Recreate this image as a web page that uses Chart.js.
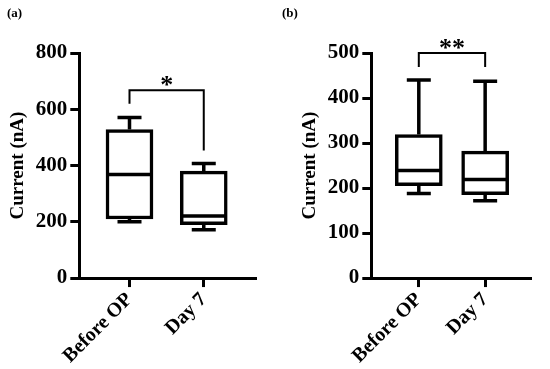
<!DOCTYPE html>
<html>
<head>
<meta charset="utf-8">
<script src="https://cdn.jsdelivr.net/npm/chart.js@4/dist/chart.umd.min.js"></script>
<style>
  html, body { margin: 0; padding: 0; background: #fff; }
  .wrap { display: flex; width: 550px; height: 369px; }
  .panel { position: relative; width: 275px; height: 369px; }
</style>
</head>
<body>
<div class="wrap">
  <div class="panel"><canvas id="chartA"></canvas></div>
  <div class="panel"><canvas id="chartB"></canvas></div>
</div>
<script>
const categories = ["Before OP", "Day 7"];

// panel (a)
const aMin = [200, 172];
const aQ1 = [210, 190];
const aMedian = [368, 221];
const aQ3 = [528, 380];
const aMax = [571, 407];

// panel (b)
const bMin = [188, 172];
const bQ1 = [205, 185];
const bMedian = [239, 219];
const bQ3 = [319, 282];
const bMax = [440, 437];

// significance brackets: [level, left leg end, right leg end]
const aBracket = [668, 620, 453];
const bBracket = [500, 469, 469];

const FONT = "'Liberation Serif', 'Times New Roman', serif";

const boxPlugin = {
    id: "boxplot",
    afterDatasetsDraw(chart, args, opts) {
        const { ctx } = chart;
        const x = chart.scales.x, y = chart.scales.y;
        const bars = chart.getDatasetMeta(0).data;
        ctx.save();
        ctx.strokeStyle = "#000";
        ctx.lineWidth = 3.5;
        ctx.lineCap = "butt";
        bars.forEach((bar, i) => {
            const cx = bar.x;
            const half = bar.width / 2 - 2;
            const cap = 12;
            ctx.beginPath();
            // median
            ctx.moveTo(cx - half, y.getPixelForValue(opts.med[i]));
            ctx.lineTo(cx + half, y.getPixelForValue(opts.med[i]));
            // upper whisker
            ctx.moveTo(cx, y.getPixelForValue(opts.q3[i]));
            ctx.lineTo(cx, y.getPixelForValue(opts.max[i]));
            ctx.moveTo(cx - cap, y.getPixelForValue(opts.max[i]));
            ctx.lineTo(cx + cap, y.getPixelForValue(opts.max[i]));
            // lower whisker
            ctx.moveTo(cx, y.getPixelForValue(opts.q1[i]));
            ctx.lineTo(cx, y.getPixelForValue(opts.min[i]));
            ctx.moveTo(cx - cap, y.getPixelForValue(opts.min[i]));
            ctx.lineTo(cx + cap, y.getPixelForValue(opts.min[i]));
            ctx.stroke();
        });
        // bracket
        const br = opts.bracket;
        const x0 = x.getPixelForValue(0), x1 = x.getPixelForValue(1);
        ctx.lineWidth = 2;
        ctx.beginPath();
        ctx.moveTo(x0, y.getPixelForValue(br[1]));
        ctx.lineTo(x0, y.getPixelForValue(br[0]));
        ctx.lineTo(x1, y.getPixelForValue(br[0]));
        ctx.lineTo(x1, y.getPixelForValue(br[2]));
        ctx.stroke();
        ctx.fillStyle = "#000";
        ctx.font = "bold 26px " + FONT;
        ctx.textAlign = "center";
        ctx.textBaseline = "alphabetic";
        ctx.fillText(opts.stars, (x0 + x1) / 2, y.getPixelForValue(br[0]) + 3);
        // panel label
        ctx.font = "bold 13px " + FONT;
        ctx.textAlign = "left";
        ctx.fillText(opts.label, 7, 17);
        ctx.restore();
    }
};

function makeChart(id, label, stars, mn, q1, med, q3, mx, bracket, yMax, step, xMin, xMax, padLeft) {
    return new Chart(document.getElementById(id).getContext("2d"), {
        type: "bar",
        data: {
            datasets: [{
                data: q1.map((v, i) => ({ x: i, y: [v, q3[i]] })),
                backgroundColor: "#fff",
                borderColor: "#000",
                borderWidth: 3.5,
                borderSkipped: false,
                barThickness: 47,
            }],
        },
        options: {
            responsive: true,
            maintainAspectRatio: false,
            animation: false,
            layout: { padding: { top: 53, right: 20, left: padLeft, bottom: 0 } },
            plugins: {
                legend: { display: false },
                tooltip: { enabled: false },
                boxplot: { label, stars, min: mn, q1, med, q3, max: mx, bracket },
            },
            scales: {
                x: {
                    type: "linear",
                    offset: false,
                    min: xMin,
                    max: xMax,
                    afterBuildTicks: (axis) => { axis.ticks = [{ value: 0 }, { value: 1 }]; },
                    ticks: {
                        callback: (v) => categories[v],
                        minRotation: 45,
                        maxRotation: 45,
                        color: "#000",
                        font: { family: FONT, size: 20, weight: "bold" },
                        padding: 1,
                    },
                    grid: { offset: false, drawOnChartArea: false, drawTicks: true, tickLength: 9, lineWidth: 3, color: "#000" },
                    border: { width: 3, color: "#000" },
                },
                y: {
                    min: 0,
                    max: yMax,
                    ticks: {
                        stepSize: step,
                        color: "#000",
                        font: { family: FONT, size: 21, weight: "bold" },
                        padding: 3,
                    },
                    grid: { drawOnChartArea: false, drawTicks: true, tickLength: 9, lineWidth: 3, color: "#000" },
                    border: { width: 3, color: "#000" },
                    title: {
                        display: true,
                        text: "Current (nA)",
                        color: "#000",
                        font: { family: FONT, size: 19, weight: "bold" },
                        padding: { top: 0, bottom: 3 },
                    },
                },
            },
        },
        plugins: [boxPlugin],
    });
}

makeChart("chartA", "(a)", "*", aMin, aQ1, aMedian, aQ3, aMax, aBracket, 800, 200, -0.676, 1.69, 7);
makeChart("chartB", "(b)", "**", bMin, bQ1, bMedian, bQ3, bMax, bBracket, 500, 100, -0.716, 1.676, 24);
</script>
</body>
</html>
